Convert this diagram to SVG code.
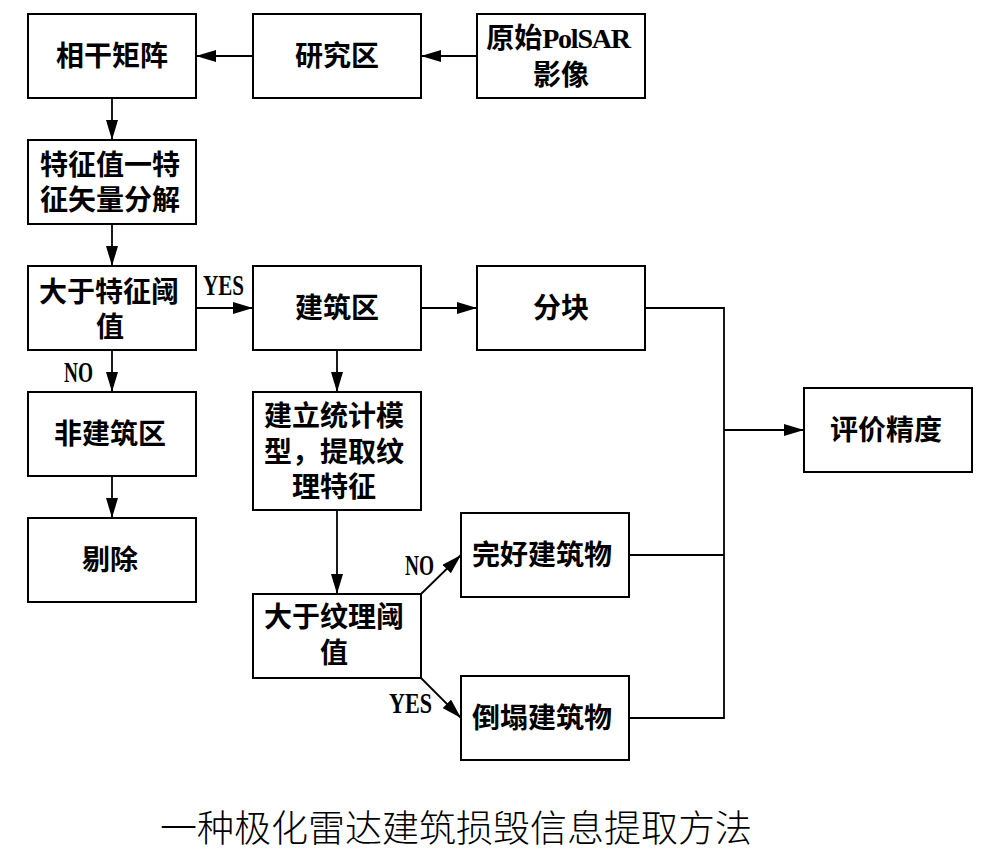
<svg xmlns="http://www.w3.org/2000/svg" width="1001" height="855" viewBox="0 0 1001 855">
<style>
.box{fill:#fff;stroke:#000;stroke-width:2}
.t{font-family:"Liberation Sans","Noto Sans CJK SC","Noto Sans CJK JP",sans-serif;font-weight:bold;font-size:28px;fill:#000;text-anchor:middle;dominant-baseline:central}
.lat{font-family:"Liberation Serif",serif;font-weight:bold}
.lbl{font-family:"Liberation Serif",serif;font-weight:bold;font-size:30px;fill:#000}
.ln{fill:none;stroke:#000;stroke-width:1.8}
.title{font-family:"Noto Sans CJK SC","Noto Sans CJK JP",sans-serif;font-weight:300;font-size:37px;fill:#000;text-anchor:middle;dominant-baseline:central}
</style>
<defs>
<marker id="ah" markerUnits="userSpaceOnUse" viewBox="0 0 20 12" refX="20" refY="6" markerWidth="20" markerHeight="12" orient="auto">
<path d="M0,0 L20,6 L0,12 Z" fill="#000"/>
</marker>
</defs>
<rect width="1001" height="855" fill="#fff"/>
<g id="connectors">
<line class="ln" x1="253" y1="56" x2="196" y2="56" marker-end="url(#ah)"/>
<line class="ln" x1="477" y1="56" x2="421" y2="56" marker-end="url(#ah)"/>
<line class="ln" x1="112" y1="98" x2="112" y2="140" marker-end="url(#ah)"/>
<line class="ln" x1="112" y1="224" x2="112" y2="266" marker-end="url(#ah)"/>
<line class="ln" x1="196" y1="308" x2="253" y2="308" marker-end="url(#ah)"/>
<line class="ln" x1="112" y1="350" x2="112" y2="392" marker-end="url(#ah)"/>
<line class="ln" x1="112" y1="476" x2="112" y2="518" marker-end="url(#ah)"/>
<line class="ln" x1="421" y1="308" x2="477" y2="308" marker-end="url(#ah)"/>
<line class="ln" x1="337" y1="350" x2="337" y2="392" marker-end="url(#ah)"/>
<line class="ln" x1="337" y1="510" x2="337" y2="594" marker-end="url(#ah)"/>
<line class="ln" x1="421" y1="594" x2="461" y2="555" marker-end="url(#ah)"/>
<line class="ln" x1="421" y1="678" x2="461" y2="718" marker-end="url(#ah)"/>
<polyline class="ln" points="645,308 724,308 724,718 629,718"/>
<line class="ln" x1="629" y1="555" x2="724" y2="555"/>
<line class="ln" x1="724" y1="430" x2="804" y2="430" marker-end="url(#ah)"/>
<text class="lbl" x="203" y="295" textLength="41" lengthAdjust="spacingAndGlyphs">YES</text>
<text class="lbl" x="64" y="382" textLength="29" lengthAdjust="spacingAndGlyphs">NO</text>
<text class="lbl" x="405" y="575" textLength="29" lengthAdjust="spacingAndGlyphs">NO</text>
<text class="lbl" x="389" y="713" textLength="43" lengthAdjust="spacingAndGlyphs">YES</text>
</g>
<g id="n1"><rect class="box" x="28" y="14" width="168" height="84"/><text class="t" x="112" y="56">相干矩阵</text></g>
<g id="n2"><rect class="box" x="253" y="14" width="168" height="84"/><text class="t" x="337" y="56">研究区</text></g>
<g id="n3"><rect class="box" x="477" y="14" width="168" height="84"/><text class="t"><tspan x="558" y="38">原始<tspan class="lat" font-size="28" letter-spacing="-1.2">PolSAR</tspan></tspan><tspan x="561" y="75">影像</tspan></text></g>
<g id="n4"><rect class="box" x="28" y="140" width="168" height="84"/><text class="t"><tspan x="110" y="165">特征值一特</tspan><tspan x="110" y="200">征矢量分解</tspan></text></g>
<g id="n5"><rect class="box" x="28" y="266" width="168" height="84"/><text class="t"><tspan x="109" y="292">大于特征阈</tspan><tspan x="110" y="327">值</tspan></text></g>
<g id="n6"><rect class="box" x="253" y="266" width="168" height="84"/><text class="t" x="337" y="308">建筑区</text></g>
<g id="n7"><rect class="box" x="477" y="266" width="168" height="84"/><text class="t" x="561" y="308">分块</text></g>
<g id="n8"><rect class="box" x="28" y="392" width="168" height="84"/><text class="t" x="110" y="434">非建筑区</text></g>
<g id="n9"><rect class="box" x="28" y="518" width="168" height="84"/><text class="t" x="110" y="560">剔除</text></g>
<g id="n10"><rect class="box" x="253" y="392" width="168" height="118"/><text class="t"><tspan x="334" y="416">建立统计模</tspan><tspan x="334" y="452">型，提取纹</tspan><tspan x="334" y="487">理特征</tspan></text></g>
<g id="n11"><rect class="box" x="253" y="594" width="168" height="84"/><text class="t"><tspan x="334" y="617">大于纹理阈</tspan><tspan x="334" y="653">值</tspan></text></g>
<g id="n12"><rect class="box" x="461" y="513" width="168" height="84"/><text class="t" x="542" y="555">完好建筑物</text></g>
<g id="n13"><rect class="box" x="461" y="676" width="168" height="84"/><text class="t" x="542" y="718">倒塌建筑物</text></g>
<g id="n14"><rect class="box" x="804" y="388" width="168" height="84"/><text class="t" x="886" y="430">评价精度</text></g>
<text class="title" x="456" y="826">一种极化雷达建筑损毁信息提取方法</text>
</svg>
